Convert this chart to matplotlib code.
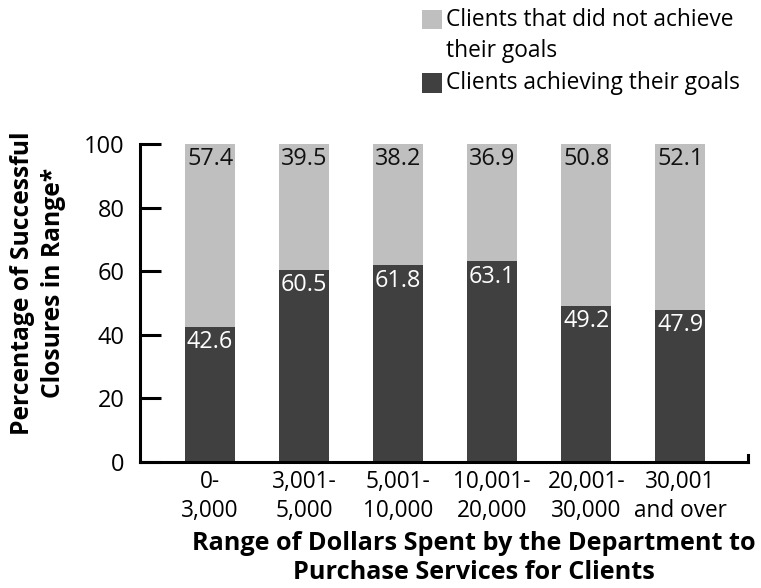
import matplotlib
matplotlib.use("Agg")
import matplotlib.pyplot as plt
from matplotlib.patches import Rectangle

plt.rcParams['font.family'] = ['Open Sans', 'DejaVu Sans']

categories = ["0-\n3,000", "3,001-\n5,000", "5,001-\n10,000", "10,001-\n20,000", "20,001-\n30,000", "30,001\nand over"]
achieved = [42.6, 60.5, 61.8, 63.1, 49.2, 47.9]
not_achieved = [57.4, 39.5, 38.2, 36.9, 50.8, 52.1]
yticks = [0, 20, 40, 60, 80, 100]

dark = "#404040"
light = "#bfbfbf"

W, H = 761, 588
fig = plt.figure(figsize=(W / 100, H / 100), dpi=100)
ax = fig.add_axes([140 / W, 1 - 462 / H, (748 - 140) / W, (462 - 144) / H])

x = list(range(len(categories)))
bw = 0.53
ax.bar(x, achieved, width=bw, color=dark, zorder=2)
ax.bar(x, not_achieved, bottom=achieved, width=bw, color=light, zorder=2)

for xi, a, n in zip(x, achieved, not_achieved):
    ax.annotate(f"{a}", (xi, a), xytext=(0, -2.5), textcoords="offset points",
                ha="center", va="top", color="white", fontsize=16.8)
    ax.annotate(f"{n}", (xi, a + n), xytext=(0, -2.5), textcoords="offset points",
                ha="center", va="top", color="#111111", fontsize=16.8)

ax.set_xlim(-0.745, 5.72)
ax.set_ylim(0, 100)
ax.set_yticks(yticks)
ax.set_yticklabels([str(t) for t in yticks], fontsize=17)
ax.set_xticks(x)
ax.set_xticklabels(categories, fontsize=16.3, linespacing=1.26)
ax.tick_params(axis="x", length=0, pad=6)
ax.tick_params(axis="y", direction="in", length=15, width=2.2, pad=11)
for s in ["top", "right"]:
    ax.spines[s].set_visible(False)
for s in ["left", "bottom"]:
    ax.spines[s].set_linewidth(2.2)
    ax.spines[s].set_zorder(3)
# small upward tick at the right end of the x axis
ax.plot([5.72, 5.72], [0, 2.2], color="black", lw=2.2, clip_on=False, zorder=3)

fig.text(38 / W, 1 - 283 / H, "Percentage of Successful\nClosures in Range*",
         rotation=90, ha="center", va="center", fontsize=17.7, fontweight="bold",
         linespacing=1.28)
fig.text(474 / W, 1 - 558 / H, "Range of Dollars Spent by the Department to\nPurchase Services for Clients",
         ha="center", va="center", fontsize=18.2, fontweight="bold", linespacing=1.2)

# legend (manual)
fig.patches.append(Rectangle((422 / W, 1 - 29 / H), 20 / W, 19 / H, transform=fig.transFigure,
                             facecolor=light, edgecolor="none"))
fig.patches.append(Rectangle((422 / W, 1 - 93 / H), 20 / W, 20 / H, transform=fig.transFigure,
                             facecolor=dark, edgecolor="none"))
fig.text(446 / W, 1 - 20 / H, "Clients that did not achieve", ha="left", va="center", fontsize=16.4)
fig.text(446 / W, 1 - 51 / H, "their goals", ha="left", va="center", fontsize=16.4)
fig.text(446 / W, 1 - 83 / H, "Clients achieving their goals", ha="left", va="center", fontsize=16.4)

fig.savefig("out.png", dpi=100)
